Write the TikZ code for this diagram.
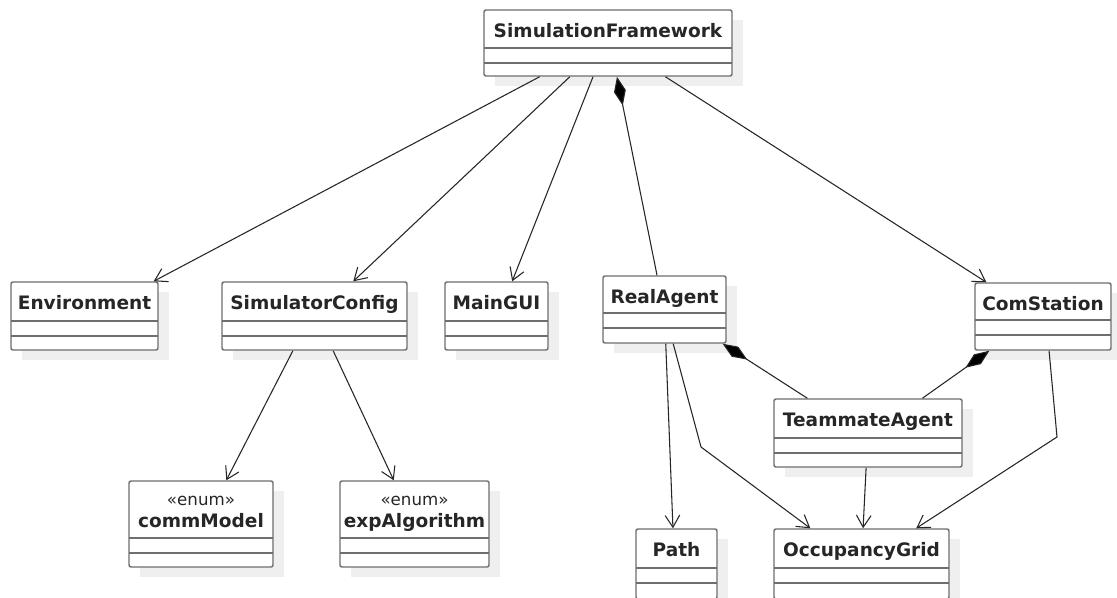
\documentclass[tikz,border=0pt]{standalone}
\usepackage{fontspec}
\setmainfont{DejaVu Sans}
\usetikzlibrary{arrows.meta,calc,fit}

\definecolor{boxline}{HTML}{6E6E6E}
\definecolor{shade}{HTML}{EFEFEF}
\definecolor{ink}{HTML}{262626}

\tikzset{
  classbox/.style={draw=boxline, fill=white, line width=1.1pt, rounded corners=1.5pt, inner sep=0pt},
  classrule/.style={draw=boxline, line width=1.1pt},
  classshadow/.style={fill=shade},
  classname/.style={font=\bfseries\fontsize{13.9}{16}\selectfont, text=ink, inner sep=0pt, anchor=base},
  stereo/.style={font=\fontsize{12.5}{15}\selectfont, text=ink, inner sep=0pt, anchor=base},
  link/.style={draw=ink, line width=0.8pt},
  assoc/.style={link, -{Straight Barb[length=9pt,width=11pt]}},
  compose/.style={link, {Diamond[length=22pt,width=9pt,fill=black]}-},
}

% #1 node name, #2 left, #3 top, #4 right, #5 bottom, #6 first rule
\newcommand{\umlframe}[6]{%
  \fill[classshadow] (#2+11,#3+10) rectangle (#4+11,#5+10);
  \coordinate (#1-nw) at (#2,#3);
  \coordinate (#1-se) at (#4,#5);
  \node[classbox, fit=(#1-nw)(#1-se)] (#1) {};
  \draw[classrule] (#2,#6) -- (#4,#6);
  \draw[classrule] (#2,#6+15) -- (#4,#6+15);
}
\newcommand{\umlclass}[7]{%
  \umlframe{#1}{#2}{#3}{#4}{#5}{#6}
  \node[classname] (#1-name) at ({(#2+#4)/2},{#3+27}) {#7};
}
\newcommand{\umlenum}[7]{%
  \umlframe{#1}{#2}{#3}{#4}{#5}{#6}
  \node[stereo] (#1-kind) at ({(#2+#4)/2},{#3+24}) {«enum»};
  \node[classname] (#1-name) at ({(#2+#4)/2},{#3+46}) {#7};
}

\begin{document}
\begin{tikzpicture}[x=0.75pt,y=-0.75pt]
  \useasboundingbox (0,0) rectangle (1117,597);
  \fill[white] (0,0) rectangle (1117,597);

  % classes
  \umlclass{sf}{484}{10}{732}{76}{48}{SimulationFramework}
  \umlclass{env}{11}{282}{158}{350}{321}{Environment}
  \umlclass{simcfg}{222}{282}{407}{350}{321}{SimulatorConfig}
  \umlclass{gui}{445}{282}{548}{350}{321}{MainGUI}
  \umlclass{real}{603}{276}{726}{343}{313}{RealAgent}
  \umlclass{com}{975}{283}{1111}{350}{320}{ComStation}
  \umlenum{comm}{129}{481}{273}{567}{538}{commModel}
  \umlenum{exp}{340}{481}{489}{567}{538}{expAlgorithm}
  \umlclass{mate}{774}{399}{962}{467}{438}{TeammateAgent}
  \umlclass{pathc}{636}{529}{717}{599}{568}{Path}
  \umlclass{grid}{774}{529}{949}{599}{568}{OccupancyGrid}

  % bends of the two routed associations
  \coordinate (bendA) at (701,447);
  \coordinate (bendB) at (1057,437);

  % associations from the framework
  \draw[assoc] ($(sf.south west)!0.226!(sf.south east)$) -- ($(env.north west)!0.966!(env.north east)$);
  \draw[assoc] ($(sf.south west)!0.347!(sf.south east)$) -- ($(simcfg.north west)!0.708!(simcfg.north east)$);
  \draw[assoc] ($(sf.south west)!0.44!(sf.south east)$) -- ($(gui.north west)!0.65!(gui.north east)$);
  \draw[assoc] ($(sf.south west)!0.73!(sf.south east)$) -- ($(com.north west)!0.088!(com.north east)$);

  % compositions
  \draw[compose] ($(sf.south west)!0.536!(sf.south east)$) -- ($(real.north west)!0.44!(real.north east)$);
  \draw[compose] ($(real.south west)!0.967!(real.south east)$) -- ($(mate.north west)!0.18!(mate.north east)$);
  \draw[compose] ($(com.south west)!0.11!(com.south east)$) -- ($(mate.north west)!0.787!(mate.north east)$);

  % configuration enums
  \draw[assoc] ($(simcfg.south west)!0.384!(simcfg.south east)$) -- ($(comm.north west)!0.674!(comm.north east)$);
  \draw[assoc] ($(simcfg.south west)!0.6!(simcfg.south east)$) -- ($(exp.north west)!0.362!(exp.north east)$);

  % agent data
  \draw[assoc] ($(real.south west)!0.51!(real.south east)$) -- ($(pathc.north west)!0.457!(pathc.north east)$);
  \draw[assoc] ($(real.south west)!0.57!(real.south east)$) -- (bendA) -- ($(grid.north west)!0.21!(grid.north east)$);
  \draw[assoc] ($(com.south west)!0.544!(com.south east)$) -- (bendB) -- ($(grid.north west)!0.81!(grid.north east)$);
  \draw[assoc] ($(mate.south west)!0.49!(mate.south east)$) -- ($(grid.north west)!0.509!(grid.north east)$);
\end{tikzpicture}
\end{document}
